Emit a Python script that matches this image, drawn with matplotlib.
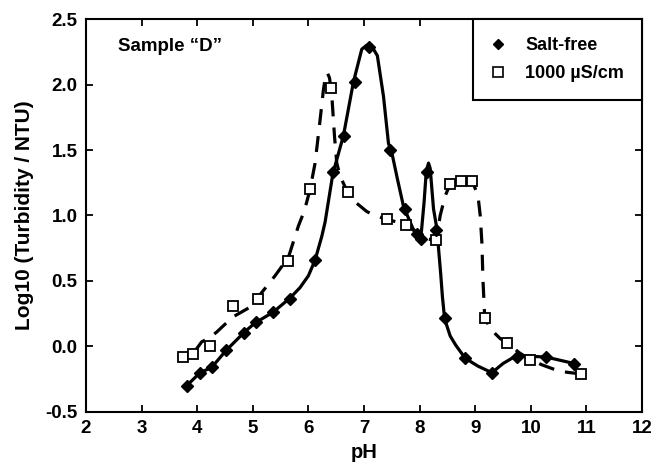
"""Turbidity vs pH for sample "D", salt-free and 1000 uS/cm."""

import matplotlib
matplotlib.use("Agg")
import matplotlib.pyplot as plt
from matplotlib.lines import Line2D

plt.rcParams.update({
    "font.family": ["Liberation Sans", "DejaVu Sans"],
    "font.weight": "bold",
    "axes.labelweight": "bold",
    "axes.linewidth": 1.5,
})

# measured points
salt_free_ph = [3.81, 4.05, 4.26, 4.52, 4.85, 5.05, 5.36, 5.66, 6.11, 6.44, 6.64,
                6.83, 7.09, 7.47, 7.74, 7.95, 8.02, 8.13, 8.30, 8.45, 8.82, 9.30,
                9.75, 10.27, 10.78]
salt_free_log = [-0.30, -0.20, -0.16, -0.03, 0.10, 0.19, 0.26, 0.36, 0.66, 1.33, 1.61,
                 2.02, 2.29, 1.50, 1.05, 0.86, 0.82, 1.33, 0.89, 0.22, -0.09, -0.20,
                 -0.08, -0.08, -0.13]

salt_ph = [3.74, 3.93, 4.23, 4.64, 5.10, 5.63, 6.03, 6.41, 6.71, 7.41, 7.76, 8.30,
           8.55, 8.74, 8.94, 9.17, 9.58, 9.99, 10.91]
salt_log = [-0.08, -0.06, 0.005, 0.31, 0.36, 0.65, 1.20, 1.97, 1.18, 0.97, 0.93, 0.81,
            1.24, 1.26, 1.26, 0.22, 0.025, -0.10, -0.21]

# hand-drawn guide curves
salt_free_curve_ph = [3.81, 4.05, 4.26, 4.52, 4.85, 5.04, 5.36, 5.67, 5.85, 6.00, 6.12,
                      6.24, 6.30, 6.44, 6.63, 6.81, 6.96, 7.05, 7.10, 7.17, 7.24, 7.35,
                      7.44, 7.50, 7.60, 7.71, 7.80, 7.90, 7.98, 8.02, 8.08, 8.12, 8.16,
                      8.19, 8.25, 8.31, 8.34, 8.38, 8.41, 8.45, 8.55, 8.65, 8.82, 9.05,
                      9.30, 9.50, 9.66, 9.76, 10.00, 10.27, 10.78]
salt_free_curve_log = [-0.30, -0.20, -0.16, -0.03, 0.11, 0.18, 0.26, 0.37, 0.45, 0.54, 0.66,
                       0.84, 0.95, 1.32, 1.61, 2.02, 2.27, 2.30, 2.30, 2.27, 2.22, 1.91,
                       1.55, 1.48, 1.28, 1.07, 0.98, 0.88, 0.83, 0.82, 1.10, 1.34, 1.40,
                       1.36, 1.05, 0.90, 0.75, 0.55, 0.38, 0.21, 0.08, 0.01, -0.09, -0.15,
                       -0.20, -0.13, -0.09, -0.07, -0.075, -0.08, -0.13]

salt_curve_ph = [3.95, 4.08, 4.23, 4.35, 4.50, 4.66, 4.95, 5.12, 5.40, 5.64, 5.82, 5.93,
                 6.03, 6.12, 6.21, 6.27, 6.31, 6.34, 6.38, 6.42, 6.47, 6.51, 6.57, 6.69,
                 6.85, 7.05, 7.20, 7.41, 7.60, 7.76, 8.00, 8.15, 8.30, 8.37, 8.46, 8.55,
                 8.74, 8.95, 9.05, 9.09, 9.12, 9.14, 9.17, 9.25, 9.33, 9.45, 9.58, 9.80,
                 9.99, 10.20, 10.52, 10.91]
salt_curve_log = [-0.04, 0.035, 0.07, 0.11, 0.17, 0.23, 0.30, 0.39, 0.54, 0.68, 0.92, 1.04,
                  1.20, 1.40, 1.73, 1.96, 2.07, 2.09, 2.05, 1.92, 1.60, 1.40, 1.30, 1.19,
                  1.10, 1.03, 1.00, 0.97, 0.95, 0.93, 0.86, 0.82, 0.81, 1.00, 1.15, 1.24,
                  1.26, 1.26, 1.15, 1.00, 0.79, 0.50, 0.23, 0.15, 0.11, 0.06, 0.025, -0.05,
                  -0.10, -0.14, -0.19, -0.21]

x_ticks = [2, 3, 4, 5, 6, 7, 8, 9, 10, 11, 12]
y_ticks = [-0.5, 0.0, 0.5, 1.0, 1.5, 2.0, 2.5]


def main():
    fig = plt.figure(figsize=(6.55, 4.67), dpi=100)
    ax = fig.add_axes([0.1313, 0.1178, 0.8489, 0.8415])

    ax.plot(salt_free_curve_ph, salt_free_curve_log, "-", color="black", lw=2.3, zorder=2)
    ax.plot(salt_curve_ph, salt_curve_log, "--", color="black", lw=2.3,
            dashes=(5, 3.5), zorder=2)

    ax.plot(salt_free_ph, salt_free_log, "D", color="black", ms=6.5, ls="none", zorder=4)
    ax.plot(salt_ph, salt_log, "s", mfc="white", mec="black", mew=1.3, ms=7.5,
            ls="none", zorder=3)

    ax.set_xlim(2, 12)
    ax.set_ylim(-0.5, 2.5)
    ax.set_xticks(x_ticks)
    ax.set_yticks(y_ticks)
    ax.set_yticklabels([f"{v:.1f}" for v in y_ticks])
    ax.tick_params(direction="in", length=5, width=1.3, top=True, right=True,
                   labelsize=13.5, pad=6)
    for lab in ax.get_xticklabels() + ax.get_yticklabels():
        lab.set_fontweight("bold")

    ax.set_xlabel("pH", fontsize=14.5, labelpad=4)
    ax.set_ylabel("Log10 (Turbidity / NTU)", fontsize=15, labelpad=8)

    ax.text(0.058, 0.93, "Sample \u201cD\u201d", transform=ax.transAxes,
            fontsize=13.5, fontweight="bold", va="center", ha="left")

    handles = [
        Line2D([], [], marker="D", color="black", ls="none", ms=5.5),
        Line2D([], [], marker="s", mfc="white", mec="black", mew=1.2, ls="none", ms=6.5),
    ]
    leg = ax.legend(handles, ["Salt-free", "1000 \u00b5S/cm"], loc="upper right",
                    borderaxespad=0, frameon=True, fancybox=False, fontsize=13,
                    handletextpad=1.1, borderpad=1.0, labelspacing=0.6,
                    handlelength=0.8)
    leg.get_frame().set_edgecolor("black")
    leg.get_frame().set_linewidth(1.5)
    leg.get_frame().set_alpha(1)

    fig.savefig("out.png", dpi=100)


if __name__ == "__main__":
    main()
